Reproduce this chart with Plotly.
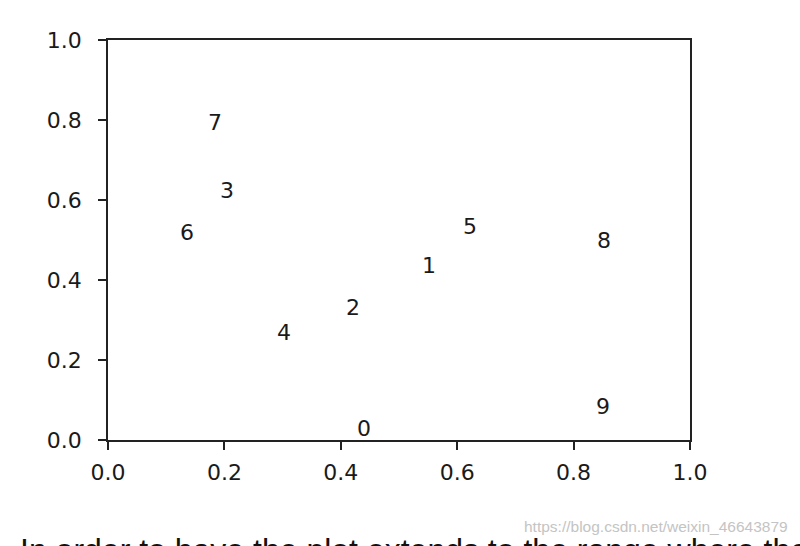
import plotly.graph_objects as go

labels = ["0", "1", "2", "3", "4", "5", "6", "7", "8", "9"]
x_vals = [0.426, 0.538, 0.407, 0.191, 0.289, 0.608, 0.122, 0.170, 0.838, 0.837]
y_vals = [0.008, 0.415, 0.310, 0.602, 0.248, 0.512, 0.498, 0.772, 0.478, 0.062]
tick_vals = [0.0, 0.2, 0.4, 0.6, 0.8, 1.0]
tick_text = ["0.0", "0.2", "0.4", "0.6", "0.8", "1.0"]

caption = "In order to have the plot extends to the range where the"
watermark = "https://blog.csdn.net/weixin_46643879"

FONT = "DejaVu Sans"
FS = 22
W, H = 800, 546
ML, MR, MT, MB = 108, 110, 40, 106

fig = go.Figure()
# invisible trace to establish axes
fig.add_trace(go.Scatter(x=x_vals, y=y_vals, mode="markers",
                         marker=dict(opacity=0), hoverinfo="skip", showlegend=False))

annotations = []
for lab, xv, yv in zip(labels, x_vals, y_vals):
    annotations.append(dict(x=xv, y=yv, xref="x", yref="y", text=lab, showarrow=False,
                            xanchor="left", yanchor="bottom", yshift=-6, xshift=-1,
                            font=dict(family=FONT, size=FS, color="#1a1a1a")))

pw, ph = W - ML - MR, H - MT - MB


def px_x(v):
    return (v - ML) / pw


def px_y(v):
    return (H - MB - v) / ph


annotations.append(dict(x=px_x(18), y=px_y(530), xref="paper", yref="paper", text=caption,
                        showarrow=False, xanchor="left", yanchor="top",
                        font=dict(family="Liberation Sans", size=32, color="#111111")))
annotations.append(dict(x=px_x(790), y=px_y(526), xref="paper", yref="paper", text=watermark,
                        showarrow=False, xanchor="right", yanchor="middle",
                        font=dict(family="Liberation Sans Narrow, Liberation Sans", size=15.5, color="#c4c4c4")))

axis_common = dict(range=[0, 1], tickvals=tick_vals, ticktext=tick_text,
                   showgrid=False, zeroline=False, showline=True, linecolor="#222222",
                   linewidth=1.6, mirror=True, ticks="outside", ticklen=8, tickwidth=1.6,
                   tickcolor="#222222", tickfont=dict(family=FONT, size=FS, color="#1a1a1a"))

fig.update_layout(
    width=W, height=H,
    margin=dict(l=ML, r=MR, t=MT, b=MB, autoexpand=False),
    paper_bgcolor="white", plot_bgcolor="white",
    xaxis=dict(**axis_common, ticklabelstandoff=4),
    yaxis=dict(**axis_common, ticklabelstandoff=12),
    annotations=annotations,
    showlegend=False,
)

fig.write_html("out.html", config={"displayModeBar": False},
               post_script="document.body.style.margin='0';document.body.style.overflow='hidden';")
